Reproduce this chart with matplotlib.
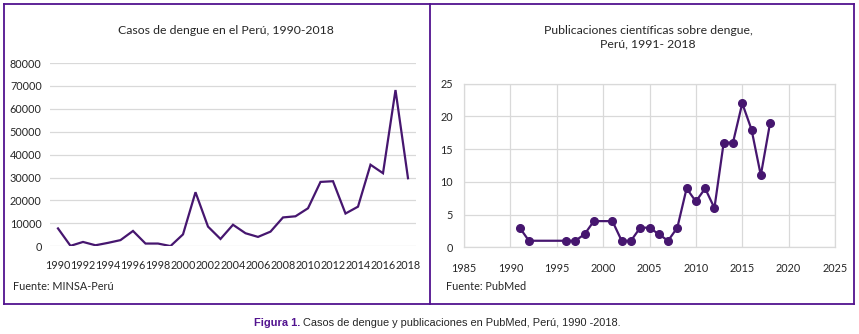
# -*- coding: utf-8 -*-

#---------------------------------------------------------------------
# ライブラリの読み込み
#---------------------------------------------------------------------
import numpy as np
import matplotlib as mpl
import matplotlib.pyplot as plt
from matplotlib.lines import Line2D

#---------------------------------------------------------------------
# データ
#---------------------------------------------------------------------
# Casos de dengue (MINSA)
years_cases = list(range(1990, 2019))
cases = [7800, 200, 1900, 450, 1500, 2700, 6700, 1200, 1200, 100,
         5200, 23600, 8600, 3200, 9400, 5700, 4100, 6400, 12600, 13100,
         16600, 28100, 28400, 14300, 17300, 35600, 31900, 68200, 29700]

# Publicaciones (PubMed)
years_pub = [1991, 1992, 1996, 1997, 1998, 1999, 2001, 2002, 2003, 2004,
             2005, 2006, 2007, 2008, 2009, 2010, 2011, 2012, 2013, 2014,
             2015, 2016, 2017, 2018]
pubs = [3, 1, 1, 1, 2, 4, 4, 1, 1, 3,
        3, 2, 1, 3, 9, 7, 9, 6, 16, 16,
        22, 18, 11, 19]

#---------------------------------------------------------------------
# スタイル
#---------------------------------------------------------------------
mpl.rc('font', family=['Lato', 'DejaVu Sans'])
W, H = 859, 334
PURPLE = '#46166f'
FRAME = '#52138f'
GRID = '#d9d9d9'
TXT = '#262626'

fig = plt.figure(figsize=(W / 100, H / 100), dpi=100)


def px_axes(x0, y0, x1, y1):
	# ピクセル座標 (左上原点) から axes を作成
	return fig.add_axes([x0 / W, 1 - y1 / H, (x1 - x0) / W, (y1 - y0) / H])


def fx(x):
	return x / W


def fy(y):
	return 1 - y / H


# 枠線
for xs, ys in [([4, 854], [4, 4]), ([4, 854], [304, 304]), ([4, 4], [4, 304]),
               ([854, 854], [4, 304]), ([430, 430], [4, 304])]:
	fig.add_artist(Line2D([fx(v) for v in xs], [fy(v) for v in ys],
	                      color=FRAME, lw=1.3))

#---------------------------------------------------------------------
# 左: 折れ線グラフ
#---------------------------------------------------------------------
ax1 = px_axes(50, 63, 416, 246.3)
pos = np.arange(len(years_cases))
ax1.plot(pos, cases, color=PURPLE, lw=1.6, solid_joinstyle='miter')
ax1.set_xlim(-0.64, len(years_cases) - 1 + 0.64)
ax1.set_ylim(0, 80000)
ax1.set_yticks(np.arange(0, 80001, 10000))
ax1.set_xticks(pos[::2])
ax1.set_xticklabels([str(y) for y in years_cases[::2]])
ax1.grid(axis='y', color=GRID, lw=0.9)
ax1.set_axisbelow(True)
for s in ax1.spines.values():
	s.set_visible(False)
ax1.tick_params(length=0, labelsize=7.8, colors=TXT)
ax1.tick_params(axis='y', pad=6)
ax1.tick_params(axis='x', pad=10)

fig.text(fx(226), fy(30), 'Casos de dengue en el Perú, 1990-2018',
         ha='center', va='center', fontsize=8.8, color=TXT)
fig.text(fx(13), fy(287), 'Fuente: MINSA-Perú',
         ha='left', va='center', fontsize=7.8, color=TXT)

#---------------------------------------------------------------------
# 右: 散布図 (線付き)
#---------------------------------------------------------------------
ax2 = px_axes(464, 83.7, 835, 247.3)
ax2.plot(years_pub, pubs, color=PURPLE, lw=1.6, marker='o', ms=5.5)
ax2.set_xlim(1985, 2025)
ax2.set_ylim(0, 25)
ax2.set_xticks(np.arange(1985, 2026, 5))
ax2.set_yticks(np.arange(0, 26, 5))
ax2.grid(True, color=GRID, lw=0.9)
ax2.set_axisbelow(True)
for s in ax2.spines.values():
	s.set_color(GRID)
	s.set_linewidth(0.9)
ax2.tick_params(length=0, labelsize=7.8, colors=TXT)
ax2.tick_params(axis='y', pad=8)
ax2.tick_params(axis='x', pad=11)

fig.text(fx(648), fy(37), 'Publicaciones científicas sobre dengue,\nPerú, 1991- 2018',
         ha='center', va='center', fontsize=8.8, color=TXT, linespacing=1.3)
fig.text(fx(446), fy(287), 'Fuente: PubMed',
         ha='left', va='center', fontsize=7.8, color=TXT)

#---------------------------------------------------------------------
# キャプション
#---------------------------------------------------------------------
t1 = fig.text(fx(254), fy(323), 'Figura 1.', ha='left', va='center',
              fontsize=7.9, color=FRAME, fontweight='bold', family='Liberation Sans')
fig.canvas.draw()
bb = t1.get_window_extent()
fig.text(bb.x1 / W + 3 / W, fy(323),
         'Casos de dengue y publicaciones en PubMed, Perú, 1990 -2018.',
         ha='left', va='center', fontsize=7.9, color=TXT, family='Liberation Sans')

fig.savefig('out.png', dpi=100)
